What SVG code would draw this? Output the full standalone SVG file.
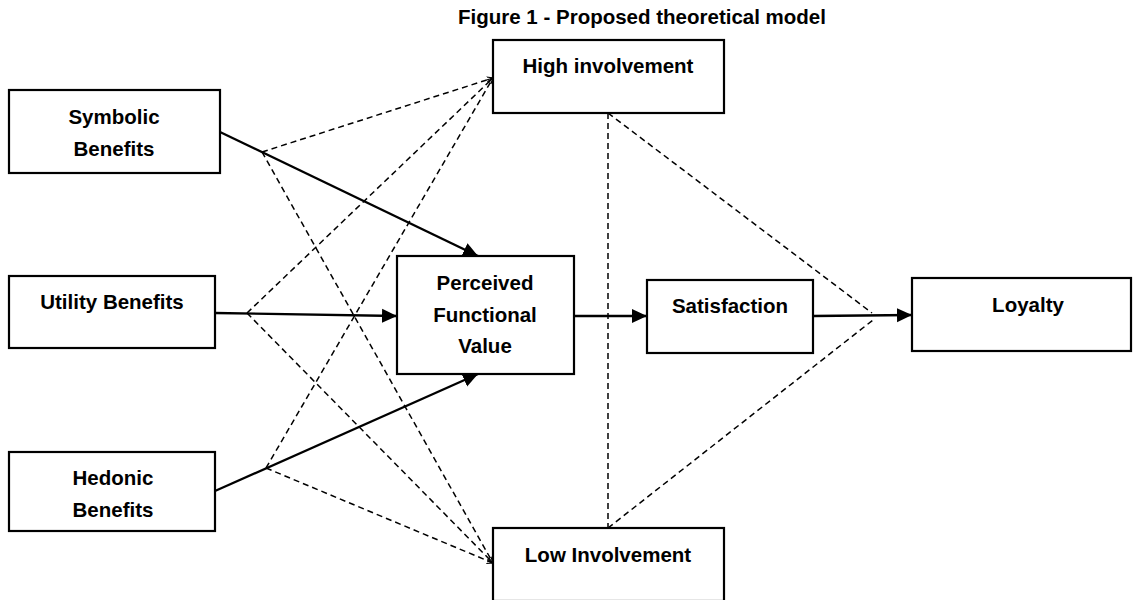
<svg xmlns="http://www.w3.org/2000/svg" width="1133" height="600" viewBox="0 0 1133 600">
<style>
.box{fill:#fff;stroke:#000;stroke-width:2.2}
.t{font-family:"Liberation Sans",Arial,sans-serif;font-weight:bold;font-size:20.5px;fill:#000;text-anchor:middle}
.solid{fill:none;stroke:#000;stroke-width:2.3}
.dash{fill:none;stroke:#000;stroke-width:1.5;stroke-dasharray:6 4}
</style>
<defs>
<marker id="arr" markerUnits="userSpaceOnUse" markerWidth="16" markerHeight="16" refX="15" refY="7" orient="auto" viewBox="0 0 16 14">
<path d="M0,0 L15,7 L0,14 z" fill="#000"/>
</marker>
<marker id="sarr" markerUnits="userSpaceOnUse" markerWidth="7" markerHeight="7" refX="6" refY="3" orient="auto" viewBox="0 0 7 6">
<path d="M0,0 L6,3 L0,6" fill="none" stroke="#000" stroke-width="1.2"/>
</marker>
</defs>
<rect width="1133" height="600" fill="#fff"/>
<text class="t" x="642" y="24">Figure 1 - Proposed theoretical model</text>

<g id="connectors">
<line class="solid" x1="220" y1="132" x2="478" y2="256" marker-end="url(#arr)"/>
<line class="solid" x1="215" y1="313" x2="397" y2="316" marker-end="url(#arr)"/>
<line class="solid" x1="215" y1="491" x2="478" y2="374" marker-end="url(#arr)"/>
<line class="solid" x1="574" y1="316" x2="647" y2="316" marker-end="url(#arr)"/>
<line class="solid" x1="813" y1="316" x2="912" y2="315" marker-end="url(#arr)"/>
<line class="dash" x1="262" y1="152" x2="493" y2="78" marker-end="url(#sarr)"/>
<line class="dash" x1="247" y1="313" x2="493" y2="78" marker-end="url(#sarr)"/>
<line class="dash" x1="266" y1="468" x2="493" y2="78" marker-end="url(#sarr)"/>
<line class="dash" x1="262" y1="152" x2="493" y2="563" marker-end="url(#sarr)"/>
<line class="dash" x1="247" y1="313" x2="493" y2="563" marker-end="url(#sarr)"/>
<line class="dash" x1="266" y1="468" x2="493" y2="563" marker-end="url(#sarr)"/>
<line class="dash" x1="608" y1="113" x2="608" y2="528"/>
<line class="dash" x1="608" y1="113" x2="872" y2="313"/>
<line class="dash" x1="608" y1="528" x2="873" y2="320"/>
</g>

<g id="symbolic">
<rect class="box" x="9" y="90" width="211" height="83"/>
<text class="t" x="114" y="124">Symbolic</text>
<text class="t" x="114" y="156">Benefits</text>
</g>
<g id="utility">
<rect class="box" x="9" y="276" width="206" height="72"/>
<text class="t" x="112" y="309">Utility Benefits</text>
</g>
<g id="hedonic">
<rect class="box" x="9" y="452" width="206" height="79"/>
<text class="t" x="113" y="485">Hedonic</text>
<text class="t" x="113" y="517">Benefits</text>
</g>
<g id="high">
<rect class="box" x="493" y="40" width="231" height="73"/>
<text class="t" x="608" y="73">High involvement</text>
</g>
<g id="low">
<rect class="box" x="493" y="528" width="231" height="73"/>
<text class="t" x="608" y="562">Low Involvement</text>
</g>
<g id="pfv">
<rect class="box" x="397" y="256" width="177" height="118"/>
<text class="t" x="485" y="290">Perceived</text>
<text class="t" x="485" y="322">Functional</text>
<text class="t" x="485" y="353">Value</text>
</g>
<g id="satisfaction">
<rect class="box" x="647" y="280" width="166" height="73"/>
<text class="t" x="730" y="313">Satisfaction</text>
</g>
<g id="loyalty">
<rect class="box" x="912" y="278" width="219" height="73"/>
<text class="t" x="1028" y="312">Loyalty</text>
</g>
</svg>
